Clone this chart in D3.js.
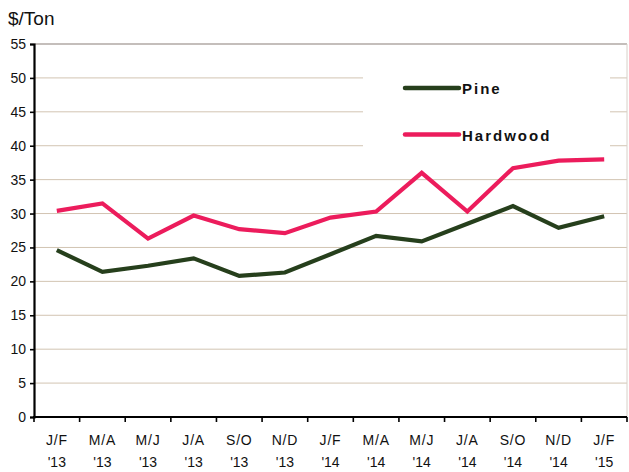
<!DOCTYPE html>
<html><head><meta charset="utf-8">
<script src="https://cdn.jsdelivr.net/npm/d3@7"></script>
<style>body{margin:0;background:#fff}svg{display:block}</style>
</head><body>
<svg id="c" width="629" height="472"></svg>
<script>
const periods = ["J/F","M/A","M/J","J/A","S/O","N/D","J/F","M/A","M/J","J/A","S/O","N/D","J/F"];
const years   = ["'13","'13","'13","'13","'13","'13","'14","'14","'14","'14","'14","'14","'15"];
const pine     = [24.6,21.4,22.3,23.4,20.8,21.3,24.0,26.7,25.9,28.5,31.1,27.9,29.6];
const hardwood = [30.4,31.5,26.3,29.7,27.7,27.1,29.4,30.3,36.0,30.3,36.7,37.8,38.0];
const yTicks = [0,5,10,15,20,25,30,35,40,45,50,55];
const seriesNames = ["Pine","Hardwood"];
const seriesColors = ["#263f1c","#ec1c5c"];

const svg = d3.select("#c");
const L = 34, R = 627, T = 44, B = 417;
const idx = d3.range(periods.length);
const x = d3.scaleBand().domain(idx).range([L, R]);
const y = d3.scaleLinear().domain([0,55]).range([B, T]);
const font = "'Liberation Sans', Arial, sans-serif";

// gridlines
svg.append("g").selectAll("line").data(yTicks.filter(d=>d>0 && d<55)).join("line")
  .attr("x1", L).attr("x2", R).attr("y1", d=>y(d)).attr("y2", d=>y(d))
  .attr("stroke", "#d2c4b2").attr("stroke-width", 1);
// frame top/right
svg.append("line").attr("x1",L).attr("x2",R).attr("y1",y(55)).attr("y2",y(55)).attr("stroke","#8a7f78").attr("stroke-width",1.2);
svg.append("line").attr("x1",R).attr("x2",R).attr("y1",y(55)).attr("y2",B).attr("stroke","#d8d0c8").attr("stroke-width",1);

// legend box (white, hides gridlines)
svg.append("rect").attr("x",363).attr("y",58).attr("width",247).attr("height",103).attr("fill","#fff");

// lines
const line = d3.line().x((d,i)=>x(i)+x.bandwidth()/2).y(d=>y(d));
[pine, hardwood].forEach((s,k)=>{
  svg.append("path").datum(s).attr("d", line).attr("fill","none")
    .attr("stroke", seriesColors[k]).attr("stroke-width",4.2).attr("stroke-linejoin","miter");
});

// y axis
const ya = svg.append("g").attr("transform",`translate(${L},0)`)
  .call(d3.axisLeft(y).tickValues(yTicks).tickSize(4).tickPadding(4).tickFormat(d3.format("d")));
ya.select(".domain").attr("stroke","#000").attr("stroke-width",2.2);
ya.selectAll(".tick line").attr("stroke","#000").attr("stroke-width",1.6);
ya.selectAll("text").attr("font-family",font).attr("font-size",14).attr("fill","#111");

// x axis
const xb = d3.scaleLinear().domain([0, periods.length]).range([L, R]);
svg.append("line").attr("x1",L-1).attr("x2",R).attr("y1",B).attr("y2",B).attr("stroke","#000").attr("stroke-width",2.2);
svg.append("g").selectAll("line").data(d3.range(periods.length+1)).join("line")
  .attr("x1",d=>xb(d)).attr("x2",d=>xb(d)).attr("y1",B).attr("y2",B+5)
  .attr("stroke","#000").attr("stroke-width",1.6);
const xl = svg.append("g").selectAll("g").data(idx).join("g")
  .attr("transform", i=>`translate(${x(i)+x.bandwidth()/2},0)`);
xl.append("text").attr("y",445).attr("text-anchor","middle").attr("font-family",font)
  .attr("font-size",14).attr("letter-spacing",0.8).attr("fill","#111").text(i=>periods[i]);
xl.append("text").attr("y",467).attr("text-anchor","middle").attr("font-family",font)
  .attr("font-size",14).attr("fill","#111").text(i=>years[i]);

// unit label
svg.append("text").attr("x",8).attr("y",25).attr("font-family",font).attr("font-size",19)
  .attr("fill","#111").text("$/Ton");

// legend
const lg = svg.append("g").selectAll("g").data(seriesNames).join("g")
  .attr("transform",(d,i)=>`translate(0,${88 + i*46.5})`);
lg.append("line").attr("x1",405).attr("x2",459).attr("y1",0).attr("y2",0)
  .attr("stroke",(d,i)=>seriesColors[i]).attr("stroke-width",4.5).attr("stroke-linecap","round");
lg.append("text").attr("x",462).attr("y",6).attr("font-family",font).attr("font-weight","bold")
  .attr("font-size",15).attr("letter-spacing",2).attr("fill","#111").text(d=>d);
</script>
</body></html>
